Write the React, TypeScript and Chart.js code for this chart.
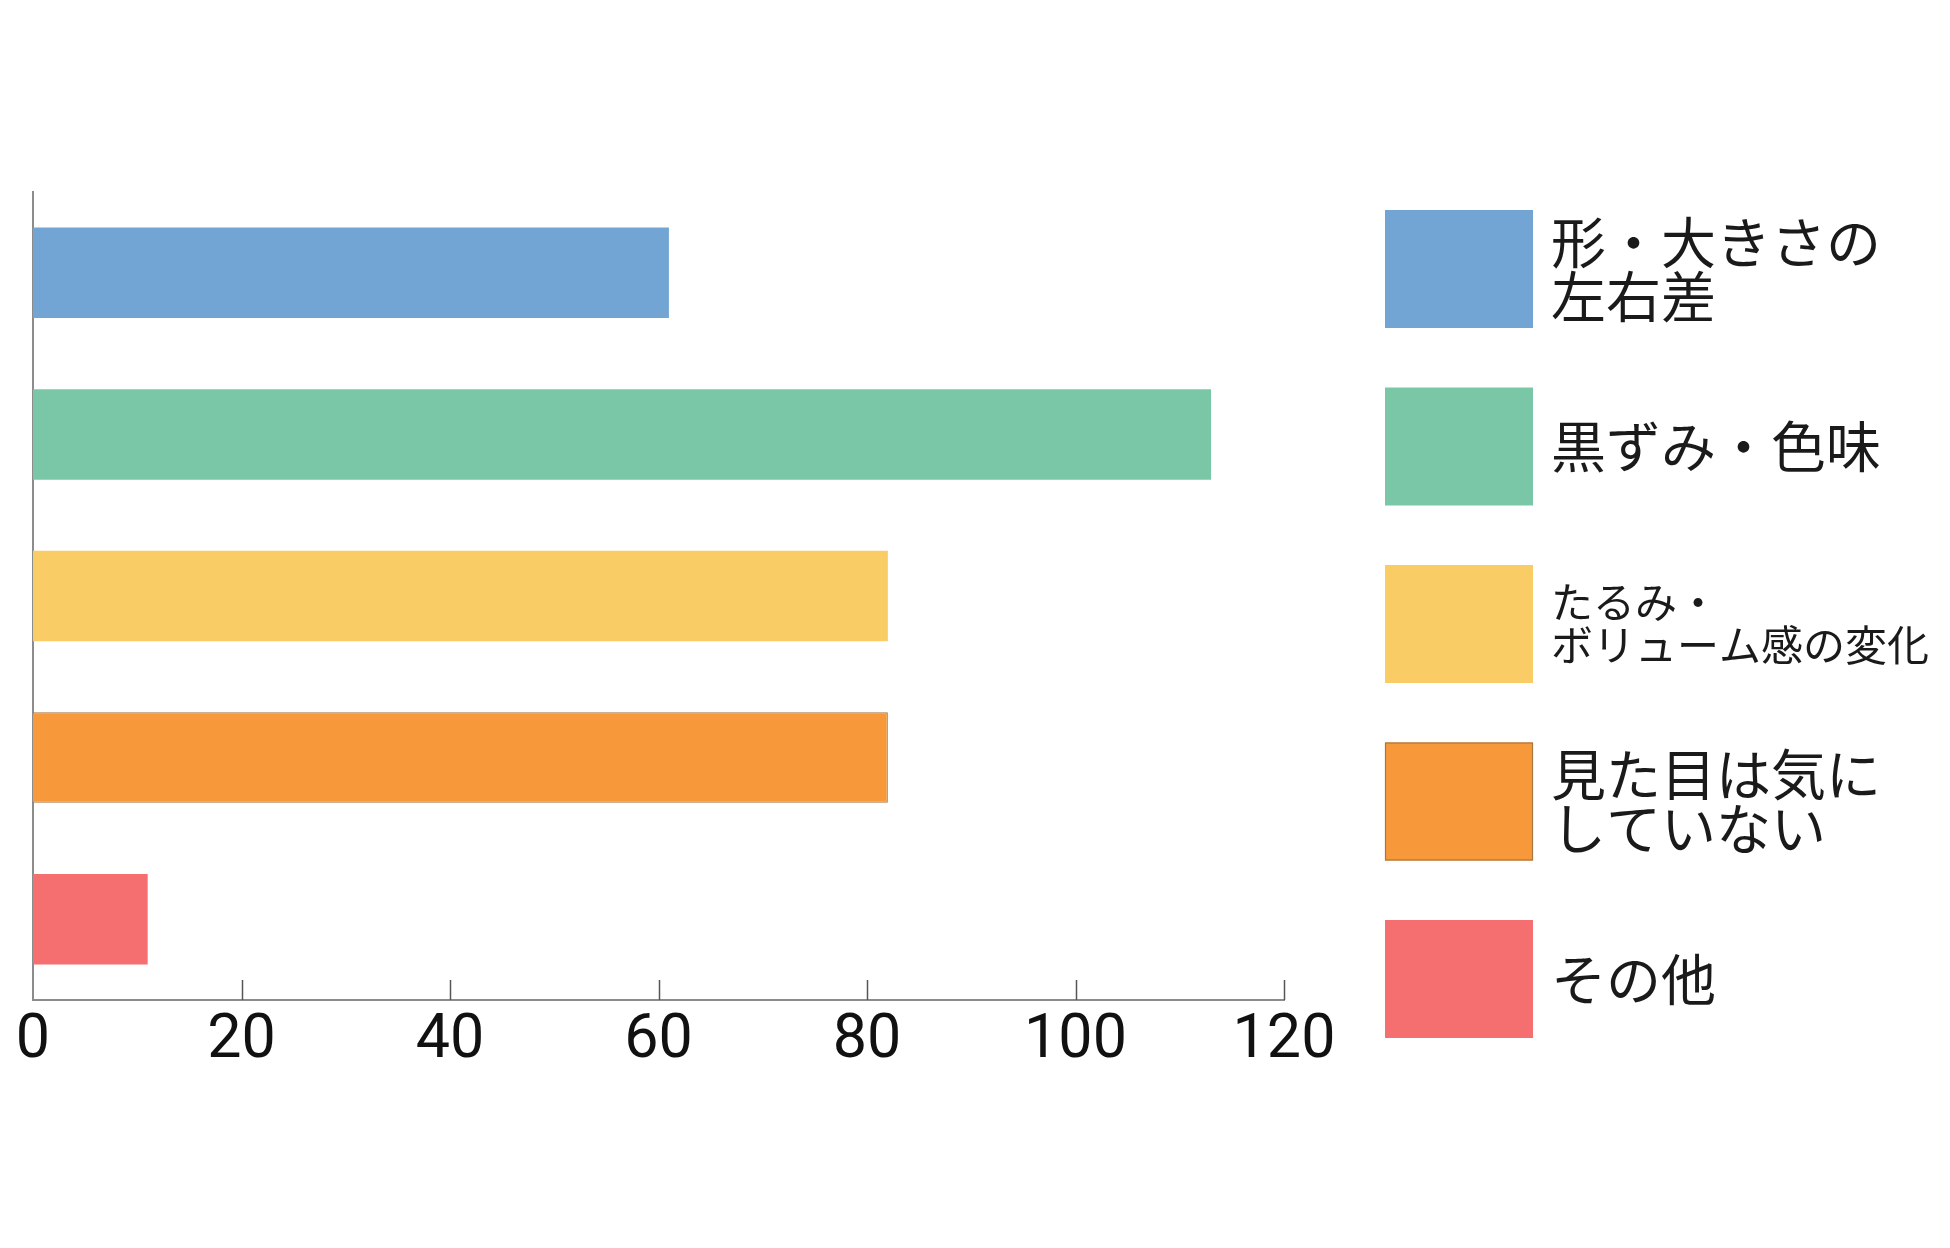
import { useEffect, useRef } from "react";
import { Chart, registerables } from "chart.js";

Chart.register(...registerables);

// ---- data ----
const categories = [
  "形・大きさの\n左右差",
  "黒ずみ・色味",
  "たるみ・\nボリューム感の変化",
  "見た目は気に\nしていない",
  "その他",
];
const values = [61, 113, 82, 82, 11];
const xTickValues = [0, 20, 40, 60, 80, 100, 120];

// ---- styles ----
const barColors = ["#72A5D4", "#7AC7A8", "#FACC66", "#F7993A", "#F66F70"];
const barBorderColors = ["#72A5D4", "#7AC7A8", "#FACC66", "#A8763F", "#F66F70"];
const barBorderWidths = [0, 0, 0, 1.2, 0];
const legendFontSizes = [55, 55, 42, 55, 55];
const legendLineHeights = [54, 54, 43, 54, 54];

const LEGEND = { x: 1385, w: 148, h: 118, top: 210, gap: 177.5, textX: 1551 };

const innerTicks = {
  id: "innerTicks",
  afterDatasetsDraw(chart: any) {
    const xs = chart.scales.x;
    const ctx = chart.ctx;
    const bottom = chart.chartArea.bottom;
    ctx.save();
    ctx.strokeStyle = "#555555";
    ctx.lineWidth = 1.5;
    xs.ticks.forEach((t: any) => {
      if (t.value === 0) return;
      const px = Math.round(xs.getPixelForValue(t.value)) + 0.5;
      ctx.beginPath();
      ctx.moveTo(px, bottom - 20);
      ctx.lineTo(px, bottom);
      ctx.stroke();
    });
    ctx.restore();
  },
};

const sideLegend = {
  id: "sideLegend",
  afterDraw(chart: any) {
    const ctx = chart.ctx;
    const ds = chart.data.datasets[0];
    ctx.save();
    chart.data.labels.forEach((label: string, i: number) => {
      const top = LEGEND.top + i * LEGEND.gap;
      ctx.fillStyle = ds.backgroundColor[i];
      ctx.fillRect(LEGEND.x, top, LEGEND.w, LEGEND.h);
      if (barBorderWidths[i] > 0) {
        ctx.strokeStyle = barBorderColors[i];
        ctx.lineWidth = barBorderWidths[i];
        ctx.strokeRect(LEGEND.x + 0.5, top + 0.5, LEGEND.w - 1, LEGEND.h - 1);
      }
      const size = legendFontSizes[i];
      const lh = legendLineHeights[i];
      const lines = label.split("\n");
      ctx.font = `400 ${size}px "Noto Sans CJK JP"`;
      ctx.fillStyle = "#1a1a1a";
      ctx.textAlign = "left";
      ctx.textBaseline = "middle";
      const cy = top + LEGEND.h / 2;
      const start = cy - ((lines.length - 1) * lh) / 2;
      lines.forEach((ln, j) => ctx.fillText(ln, LEGEND.textX, start + j * lh));
    });
    ctx.restore();
  },
};

export default function App() {
  const ref = useRef<HTMLCanvasElement>(null);

  useEffect(() => {
    if (!ref.current) return;
    const chart = new Chart(ref.current, {
      type: "bar",
      data: {
        labels: categories,
        datasets: [
          {
            data: values,
            backgroundColor: barColors,
            borderColor: barBorderColors,
            borderWidth: barBorderWidths,
            barPercentage: 0.56,
            categoryPercentage: 1,
          },
        ],
      },
      options: {
        indexAxis: "y",
        responsive: false,
        animation: false,
        devicePixelRatio: 1,
        layout: { padding: { left: 33, right: 666, top: 192, bottom: 168 } },
        plugins: { legend: { display: false }, tooltip: { enabled: false } },
        scales: {
          x: {
            min: 0,
            max: 120,
            afterBuildTicks: (s: any) => {
              s.ticks = xTickValues.map((v) => ({ value: v }));
            },
            ticks: {
              font: { family: "Roboto, sans-serif", size: 61 },
              color: "#111111",
              padding: 5,
              maxRotation: 0,
              autoSkip: false,
            },
            grid: { display: false, drawTicks: false },
            border: { display: true, color: "#8c8c8c", width: 2 },
            afterFit: (s: any) => {
              s.height = 80;
            },
          },
          y: {
            ticks: { display: false },
            grid: { display: false, drawTicks: false },
            border: { display: true, color: "#8c8c8c", width: 2 },
          },
        },
      } as any,
      plugins: [innerTicks, sideLegend],
    });
    return () => chart.destroy();
  }, []);

  return (
    <div style={{ position: "fixed", left: 0, top: 0, width: 1950, height: 1248, background: "#ffffff" }}>
      <canvas ref={ref} width={1950} height={1248} style={{ width: 1950, height: 1248, display: "block" }} />
    </div>
  );
}
